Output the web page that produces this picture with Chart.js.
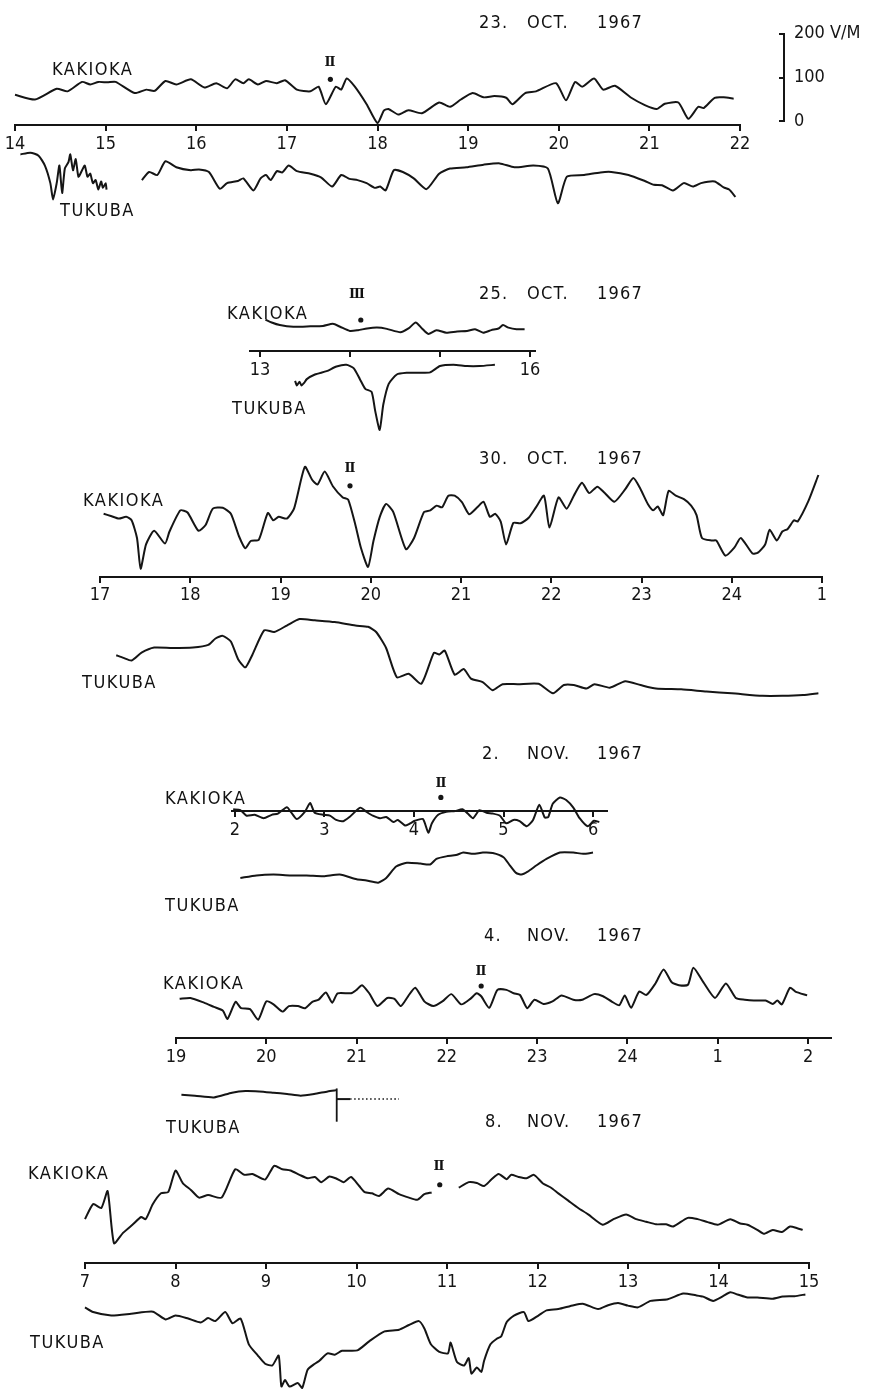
<!DOCTYPE html>
<html>
<head>
<meta charset="utf-8">
<script src="https://cdn.jsdelivr.net/npm/chart.js@4.4.0/dist/chart.umd.min.js"></script>
<style>
  html, body { margin: 0; padding: 0; background: #fff; }
  #page { position: relative; width: 871px; height: 1393px; overflow: hidden;
          font-family: "DejaVu Sans Condensed", "Liberation Sans Narrow", sans-serif; color: #111; }
  canvas { position: absolute; left: 0; }
  .t { position: absolute; font-size: 18px; line-height: 18px; white-space: pre; }
  .st { letter-spacing: 1.5px; }
  .ttl { position: absolute; left: 0; width: 871px; height: 18px; font-size: 18px; line-height: 18px;
         letter-spacing: 1.2px; }
  .ttl span { position: absolute; top: 0; }
  .ev { position: absolute; font-family: "DejaVu Serif", serif; font-weight: bold; font-size: 13px;
        line-height: 13px; transform: translate(-50%, -50%); }
</style>
</head>
<body>
<div id="page">
  <canvas id="p1"></canvas>
  <canvas id="p2"></canvas>
  <canvas id="p3"></canvas>
  <canvas id="p4"></canvas>
  <canvas id="p5"></canvas>
  <canvas id="p6"></canvas>
  <canvas id="bar" style="left:722px;top:13px"></canvas>

  <div class="ttl" style="top:13px"><span style="left:479px">23.</span><span style="left:527px">OCT.</span><span style="left:597px">1967</span></div>
  <div class="ttl" style="top:284px"><span style="left:479px">25.</span><span style="left:527px">OCT.</span><span style="left:597px">1967</span></div>
  <div class="ttl" style="top:449px"><span style="left:479px">30.</span><span style="left:527px">OCT.</span><span style="left:597px">1967</span></div>
  <div class="ttl" style="top:744px"><span style="left:482px">2.</span><span style="left:527px">NOV.</span><span style="left:597px">1967</span></div>
  <div class="ttl" style="top:926px"><span style="left:484px">4.</span><span style="left:527px">NOV.</span><span style="left:597px">1967</span></div>
  <div class="ttl" style="top:1112px"><span style="left:485px">8.</span><span style="left:527px">NOV.</span><span style="left:597px">1967</span></div>

  <div class="t st" style="left:52px;top:60px">KAKIOKA</div>
  <div class="t st" style="left:60px;top:201px">TUKUBA</div>
  <div class="t st" style="left:227px;top:304px">KAKIOKA</div>
  <div class="t st" style="left:232px;top:399px">TUKUBA</div>
  <div class="t st" style="left:83px;top:491px">KAKIOKA</div>
  <div class="t st" style="left:82px;top:673px">TUKUBA</div>
  <div class="t st" style="left:165px;top:789px">KAKIOKA</div>
  <div class="t st" style="left:165px;top:896px">TUKUBA</div>
  <div class="t st" style="left:163px;top:974px">KAKIOKA</div>
  <div class="t st" style="left:166px;top:1118px">TUKUBA</div>
  <div class="t st" style="left:28px;top:1164px">KAKIOKA</div>
  <div class="t st" style="left:30px;top:1333px">TUKUBA</div>

  <div class="ev" style="left:330px;top:61px">Ⅱ</div>
  <div class="ev" style="left:357px;top:293px">Ⅲ</div>
  <div class="ev" style="left:350px;top:467px">Ⅱ</div>
  <div class="ev" style="left:441px;top:782px">Ⅱ</div>
  <div class="ev" style="left:481px;top:970px">Ⅱ</div>
  <div class="ev" style="left:439px;top:1165px">Ⅱ</div>
</div>

<script>
// atmospheric electric field traces, [hour, V/M relative to the time axis]
const k23oct = [[14.00,71],[14.22,60],[14.46,85],[14.58,79],[14.74,101],[14.83,95],[14.92,101],[15.02,100],[15.11,101],[15.32,75],[15.45,83],[15.54,80],[15.66,103],[15.78,95],[15.94,107],[16.09,88],[16.22,98],[16.34,86],[16.43,107],[16.52,98],[16.58,107],[16.68,95],[16.77,103],[16.89,98],[16.98,105],[17.11,83],[17.26,79],[17.35,90],[17.43,49],[17.54,90],[17.60,83],[17.66,109],[17.75,90],[17.88,49],[18.00,5],[18.07,34],[18.12,38],[18.23,25],[18.34,35],[18.49,28],[18.68,53],[18.80,43],[18.92,60],[19.05,75],[19.17,65],[19.29,68],[19.42,64],[19.49,49],[19.63,75],[19.75,79],[19.97,98],[20.08,58],[20.18,101],[20.26,90],[20.39,109],[20.49,83],[20.62,92],[20.80,64],[20.95,47],[21.08,38],[21.17,50],[21.32,53],[21.43,15],[21.54,43],[21.60,40],[21.72,64],[21.82,65],[21.93,62]];
const t23octA = [[14.06,-68],[14.17,-64],[14.26,-71],[14.33,-94],[14.39,-135],[14.42,-173],[14.46,-135],[14.49,-94],[14.52,-158],[14.55,-101],[14.59,-86],[14.61,-68],[14.64,-105],[14.67,-79],[14.70,-120],[14.74,-105],[14.77,-94],[14.80,-120],[14.83,-113],[14.86,-135],[14.89,-128],[14.92,-150],[14.95,-131],[14.97,-146],[15.00,-135],[15.01,-150]];
const t23octB = [[15.40,-128],[15.48,-109],[15.57,-116],[15.66,-84],[15.78,-98],[15.94,-105],[16.03,-103],[16.14,-109],[16.26,-148],[16.34,-135],[16.46,-130],[16.52,-124],[16.63,-152],[16.71,-124],[16.77,-116],[16.82,-128],[16.89,-107],[16.95,-110],[17.02,-94],[17.11,-107],[17.26,-113],[17.38,-122],[17.50,-143],[17.60,-116],[17.69,-125],[17.78,-128],[17.88,-135],[17.97,-146],[18.03,-143],[18.09,-152],[18.18,-105],[18.28,-109],[18.40,-124],[18.54,-149],[18.68,-113],[18.80,-101],[18.98,-98],[19.17,-92],[19.35,-89],[19.51,-98],[19.72,-94],[19.88,-101],[19.99,-182],[20.09,-120],[20.28,-116],[20.46,-110],[20.58,-109],[20.77,-116],[20.95,-130],[21.05,-139],[21.14,-140],[21.26,-152],[21.38,-135],[21.48,-143],[21.57,-135],[21.72,-131],[21.82,-145],[21.88,-150],[21.95,-167]];

const k25oct = [[13.06,75],[13.13,68],[13.22,62],[13.37,58],[13.56,59],[13.70,60],[13.81,65],[13.89,58],[14.00,48],[14.09,50],[14.19,54],[14.30,56],[14.41,53],[14.56,45],[14.65,54],[14.73,68],[14.80,54],[14.87,41],[14.96,50],[15.07,44],[15.19,47],[15.30,48],[15.39,52],[15.48,44],[15.57,50],[15.65,54],[15.70,62],[15.76,56],[15.85,52],[15.94,52]];
const t25oct = [[13.39,-70],[13.41,-81],[13.44,-72],[13.46,-81],[13.49,-75],[13.52,-66],[13.61,-55],[13.74,-47],[13.85,-36],[13.96,-32],[14.04,-40],[14.11,-66],[14.17,-89],[14.24,-96],[14.28,-141],[14.33,-186],[14.37,-126],[14.43,-77],[14.52,-55],[14.63,-51],[14.74,-51],[14.89,-50],[15.00,-35],[15.15,-32],[15.30,-35],[15.44,-35],[15.61,-32]];

const k30oct = [[17.04,146],[17.12,141],[17.21,135],[17.29,139],[17.35,131],[17.41,90],[17.45,19],[17.51,75],[17.60,107],[17.72,77],[17.77,105],[17.89,154],[17.97,149],[18.09,107],[18.17,120],[18.25,158],[18.36,160],[18.45,146],[18.54,94],[18.61,66],[18.67,83],[18.76,86],[18.86,148],[18.92,131],[18.98,139],[19.07,135],[19.15,158],[19.27,255],[19.35,225],[19.41,214],[19.49,244],[19.58,210],[19.69,184],[19.75,179],[19.83,120],[19.89,68],[19.97,23],[20.03,83],[20.10,139],[20.17,169],[20.25,150],[20.39,64],[20.48,90],[20.59,150],[20.66,154],[20.73,165],[20.79,161],[20.86,188],[20.93,188],[21.01,173],[21.09,145],[21.18,161],[21.25,174],[21.32,139],[21.38,146],[21.44,128],[21.50,75],[21.58,125],[21.66,124],[21.75,137],[21.83,161],[21.92,188],[21.98,114],[22.08,184],[22.17,158],[22.25,188],[22.34,218],[22.42,194],[22.51,209],[22.59,195],[22.70,174],[22.82,203],[22.91,229],[22.99,203],[23.07,169],[23.13,154],[23.18,163],[23.24,143],[23.30,199],[23.38,188],[23.47,180],[23.55,165],[23.61,143],[23.67,90],[23.78,84],[23.83,84],[23.93,49],[24.03,68],[24.10,90],[24.23,54],[24.29,56],[24.37,75],[24.42,109],[24.50,84],[24.56,105],[24.62,111],[24.69,131],[24.73,128],[24.85,176],[24.96,236]];
const t30oct = [[17.18,-182],[17.26,-188],[17.35,-194],[17.46,-176],[17.60,-164],[17.80,-165],[18.03,-164],[18.20,-158],[18.28,-143],[18.36,-137],[18.45,-150],[18.53,-191],[18.61,-210],[18.69,-180],[18.82,-124],[18.93,-128],[19.07,-113],[19.21,-98],[19.38,-101],[19.60,-105],[19.83,-113],[19.97,-116],[20.06,-128],[20.17,-165],[20.29,-233],[20.42,-225],[20.56,-248],[20.70,-176],[20.76,-180],[20.82,-171],[20.93,-227],[21.03,-214],[21.11,-236],[21.24,-244],[21.35,-263],[21.46,-249],[21.63,-249],[21.86,-248],[22.02,-270],[22.14,-251],[22.25,-251],[22.39,-259],[22.48,-249],[22.65,-257],[22.82,-242],[22.99,-251],[23.16,-259],[23.44,-261],[23.72,-266],[24.00,-270],[24.34,-276],[24.56,-276],[24.79,-274],[24.96,-270]];

const k2nov = [[1.98,4],[2.06,2],[2.13,-11],[2.22,-9],[2.32,-17],[2.41,-9],[2.48,-6],[2.58,9],[2.63,-4],[2.69,-19],[2.78,-2],[2.84,19],[2.89,-4],[2.99,-9],[3.06,-11],[3.13,-21],[3.21,-24],[3.28,-14],[3.40,8],[3.47,-2],[3.54,-11],[3.62,-17],[3.69,-14],[3.77,-26],[3.82,-21],[3.90,-34],[3.95,-30],[4.01,-23],[4.10,-19],[4.16,-51],[4.20,-29],[4.27,-9],[4.36,-2],[4.46,0],[4.54,4],[4.60,-6],[4.66,-17],[4.73,2],[4.81,-4],[4.88,-6],[4.96,-11],[5.03,-29],[5.11,-21],[5.18,-24],[5.26,-36],[5.33,-21],[5.40,15],[5.46,-15],[5.50,-14],[5.55,17],[5.63,32],[5.70,26],[5.78,8],[5.85,-17],[5.94,-36],[6.01,-23],[6.07,-26]];
const t2nov = [[2.06,-158],[2.24,-152],[2.43,-150],[2.61,-152],[2.80,-152],[2.99,-154],[3.17,-150],[3.36,-161],[3.47,-164],[3.60,-169],[3.69,-158],[3.80,-131],[3.92,-122],[4.07,-124],[4.18,-126],[4.25,-113],[4.36,-107],[4.47,-104],[4.55,-98],[4.66,-101],[4.77,-98],[4.88,-99],[5.00,-109],[5.07,-128],[5.14,-146],[5.20,-150],[5.27,-143],[5.37,-128],[5.48,-113],[5.63,-98],[5.78,-98],[5.89,-101],[6.00,-98]];

const k4nov = [[19.04,92],[19.16,94],[19.31,83],[19.42,73],[19.52,64],[19.57,45],[19.66,85],[19.72,70],[19.82,68],[19.91,43],[20.00,86],[20.08,79],[20.18,62],[20.25,75],[20.35,75],[20.43,70],[20.51,85],[20.58,90],[20.66,107],[20.73,83],[20.79,105],[20.94,105],[21.00,113],[21.06,124],[21.14,105],[21.23,75],[21.34,94],[21.42,92],[21.49,75],[21.57,98],[21.65,118],[21.75,86],[21.85,75],[21.95,86],[22.05,103],[22.16,79],[22.26,92],[22.33,105],[22.38,98],[22.47,71],[22.56,113],[22.66,113],[22.74,105],[22.81,101],[22.89,70],[22.97,90],[23.07,80],[23.17,86],[23.27,100],[23.40,90],[23.50,90],[23.63,103],[23.73,98],[23.83,85],[23.91,77],[23.97,100],[24.04,71],[24.13,109],[24.21,101],[24.31,128],[24.40,161],[24.49,131],[24.57,124],[24.67,125],[24.73,165],[24.84,131],[24.97,94],[25.09,128],[25.20,94],[25.30,90],[25.40,88],[25.53,88],[25.61,80],[25.66,88],[25.71,79],[25.80,118],[25.86,109],[25.99,100]];
const t4nov = [[19.06,-133],[19.21,-135],[19.42,-139],[19.62,-128],[19.77,-124],[19.92,-125],[20.08,-128],[20.23,-131],[20.38,-135],[20.53,-131],[20.68,-125],[20.78,-122]];
const t4novJump = [[20.78,-118],[20.78,-196]];
const t4novStub = [[20.78,-143],[20.93,-143]];
const t4novDots = [[20.93,-143],[21.47,-143]];

const k8novA = [[7.00,102],[7.09,137],[7.18,128],[7.25,167],[7.32,46],[7.42,70],[7.53,90],[7.62,107],[7.67,102],[7.75,137],[7.84,162],[7.92,165],[8.00,215],[8.08,186],[8.17,170],[8.26,152],[8.36,158],[8.51,152],[8.66,218],[8.76,205],[8.85,207],[8.99,194],[9.09,226],[9.18,218],[9.27,215],[9.37,205],[9.46,197],[9.54,200],[9.61,188],[9.70,201],[9.77,197],[9.86,188],[9.94,200],[10.03,179],[10.09,165],[10.17,162],[10.25,156],[10.35,173],[10.47,160],[10.58,152],[10.67,147],[10.75,160],[10.83,164]];
const k8novB = [[11.13,175],[11.24,188],[11.33,186],[11.41,179],[11.49,194],[11.57,207],[11.66,195],[11.71,205],[11.79,200],[11.88,197],[11.96,205],[12.06,185],[12.15,175],[12.23,162],[12.34,145],[12.45,128],[12.56,113],[12.72,89],[12.84,102],[12.98,113],[13.09,102],[13.20,96],[13.31,90],[13.42,90],[13.50,85],[13.66,105],[13.77,102],[13.88,95],[13.99,89],[14.13,102],[14.24,92],[14.32,89],[14.43,77],[14.50,68],[14.60,77],[14.70,72],[14.79,85],[14.87,81],[14.93,77]];
const t8nov = [[7.00,-103],[7.09,-114],[7.29,-122],[7.51,-118],[7.75,-113],[7.89,-131],[8.00,-122],[8.14,-129],[8.28,-138],[8.36,-128],[8.44,-135],[8.55,-114],[8.63,-140],[8.72,-129],[8.81,-189],[8.91,-215],[8.99,-234],[9.07,-238],[9.14,-215],[9.17,-287],[9.21,-272],[9.26,-287],[9.35,-279],[9.40,-290],[9.46,-248],[9.54,-234],[9.59,-227],[9.68,-210],[9.76,-213],[9.84,-204],[10.01,-203],[10.14,-182],[10.31,-159],[10.47,-155],[10.58,-144],[10.69,-135],[10.75,-152],[10.82,-188],[10.91,-206],[11.01,-210],[11.04,-185],[11.11,-230],[11.19,-238],[11.24,-221],[11.27,-257],[11.33,-243],[11.38,-253],[11.41,-227],[11.48,-189],[11.55,-176],[11.60,-170],[11.66,-137],[11.74,-122],[11.85,-114],[11.90,-135],[12.01,-122],[12.10,-110],[12.23,-107],[12.40,-98],[12.51,-95],[12.67,-107],[12.78,-98],[12.89,-93],[13.00,-99],[13.11,-103],[13.25,-88],[13.44,-84],[13.61,-71],[13.75,-75],[13.83,-78],[13.94,-88],[14.05,-77],[14.13,-68],[14.21,-73],[14.32,-80],[14.43,-80],[14.60,-83],[14.71,-78],[14.84,-77],[14.96,-73]];

// event markers (hour, V/M)
const ev23oct = [17.48, 107];
const ev25oct = [14.12, 74];
const ev30oct = [19.77, 211];
const ev2nov = [4.30, 32];
const ev4nov = [22.38, 122];
const ev8nov = [10.92, 182];

// hour ticks on each time axis (values past 24 are the next day)
const ticks23oct = [14, 15, 16, 17, 18, 19, 20, 21, 22];
const ticks25oct = [13, 14, 15, 16];
const labels25oct = [13, 16];
const ticks30oct = [17, 18, 19, 20, 21, 22, 23, 24, 25];
const ticks2nov = [2, 3, 4, 5, 6];
const ticks4nov = [19, 20, 21, 22, 23, 24, 25, 26];
const ticks8nov = [7, 8, 9, 10, 11, 12, 13, 14, 15];

const scaleBarTicks = [0, 100, 200];

// ---- drawing ----
const INK = '#151515';
const W = 871;
const PX_PER_VM = 0.444;   // 100 V/M is about 44 px on the original
Chart.defaults.font.family = "'DejaVu Sans Condensed', 'Liberation Sans Narrow', sans-serif";
Chart.defaults.font.size = 18;
Chart.defaults.color = INK;

function pts(arr) { return arr.map(([x, y]) => ({ x: x, y: y })); }

function trace(arr, extra) {
  return Object.assign({
    data: pts(arr), borderColor: INK, borderWidth: 2, pointRadius: 0,
    tension: 0.2, fill: false, clip: false
  }, extra || {});
}

function dot(ev) {
  return { data: pts([ev]), showLine: false, pointRadius: 2.6, pointBackgroundColor: INK,
           pointBorderWidth: 0, clip: false };
}

function hourLabel(v) { return v > 24 ? String(v - 24) : String(v); }

function panel(id, p) {
  const cv = document.getElementById(id);
  cv.width = W;
  cv.height = p.height;
  cv.style.top = p.top + 'px';
  new Chart(cv, {
    type: 'line',
    data: { datasets: p.datasets },
    options: {
      responsive: false,
      animation: false,
      events: [],
      layout: { padding: { left: p.x0, right: W - p.x1, top: 0, bottom: 0 } },
      plugins: { legend: { display: false }, tooltip: { enabled: false } },
      scales: {
        x: {
          type: 'linear', min: p.min, max: p.max, position: { y: 0 },
          afterBuildTicks: s => { s.ticks = p.ticks.map(v => ({ value: v })); },
          border: { display: true, color: INK, width: 2 },
          grid: { drawOnChartArea: false, drawTicks: true, tickLength: 5, color: INK, lineWidth: 2 },
          ticks: { autoSkip: false, maxRotation: 0, padding: 3, callback: p.label || hourLabel }
        },
        y: { type: 'linear', display: false,
             min: -(p.height - p.axis) / PX_PER_VM, max: p.axis / PX_PER_VM }
      }
    }
  });
}

panel('p1', { top: 0, height: 235, axis: 125.5, x0: 15, x1: 740, min: 14, max: 22, ticks: ticks23oct,
  datasets: [trace(k23oct), trace(t23octA), trace(t23octB), dot(ev23oct)] });

panel('p2', { top: 280, height: 165, axis: 70.7, x0: 250.1, x1: 535.4, min: 12.89, max: 16.06,
  ticks: ticks25oct, label: v => labels25oct.includes(v) ? String(v) : '',
  datasets: [trace(k25oct), trace(t25oct), dot(ev25oct)] });

panel('p3', { top: 440, height: 280, axis: 136.7, x0: 100, x1: 822, min: 17, max: 25, ticks: ticks30oct,
  datasets: [trace(k30oct), trace(t30oct), dot(ev30oct)] });

panel('p4', { top: 745, height: 175, axis: 65, x0: 232.3, x1: 606.9, min: 1.97, max: 6.155, ticks: ticks2nov,
  datasets: [trace(k2nov), trace(t2nov), dot(ev2nov)] });

panel('p5', { top: 930, height: 205, axis: 108.3, x0: 176, x1: 830.6, min: 19, max: 26.25, ticks: ticks4nov,
  datasets: [trace(k4nov), trace(t4nov), trace(t4novJump, { borderWidth: 1.8 }),
             trace(t4novStub), trace(t4novDots, { borderWidth: 1.5, borderDash: [1.5, 2.5] }),
             dot(ev4nov)] });

panel('p6', { top: 1135, height: 258, axis: 128, x0: 85, x1: 809, min: 7, max: 15, ticks: ticks8nov,
  datasets: [trace(k8novA), trace(k8novB), trace(t8nov), dot(ev8nov)] });

// 0-200 V/M scale bar beside the first panel
(function () {
  const cv = document.getElementById('bar');
  cv.width = 149;
  cv.height = 129;
  new Chart(cv, {
    type: 'line',
    data: { datasets: [] },
    options: {
      responsive: false, animation: false, events: [],
      layout: { padding: { left: 37, right: 0, top: 16, bottom: 15 } },
      plugins: { legend: { display: false }, tooltip: { enabled: false } },
      scales: {
        x: { type: 'linear', display: false, min: 0, max: 1 },
        y: {
          type: 'linear', position: 'left', min: scaleBarTicks[0], max: scaleBarTicks[2],
          afterBuildTicks: s => { s.ticks = scaleBarTicks.map(v => ({ value: v })); },
          border: { display: true, color: INK, width: 2 },
          grid: { drawOnChartArea: false, drawTicks: true, tickLength: 5, color: INK, lineWidth: 2 },
          ticks: { mirror: true, padding: 10,
                   callback: v => v === 200 ? '200 V/M' : String(v) }
        }
      }
    }
  });
})();
</script>
</body>
</html>
